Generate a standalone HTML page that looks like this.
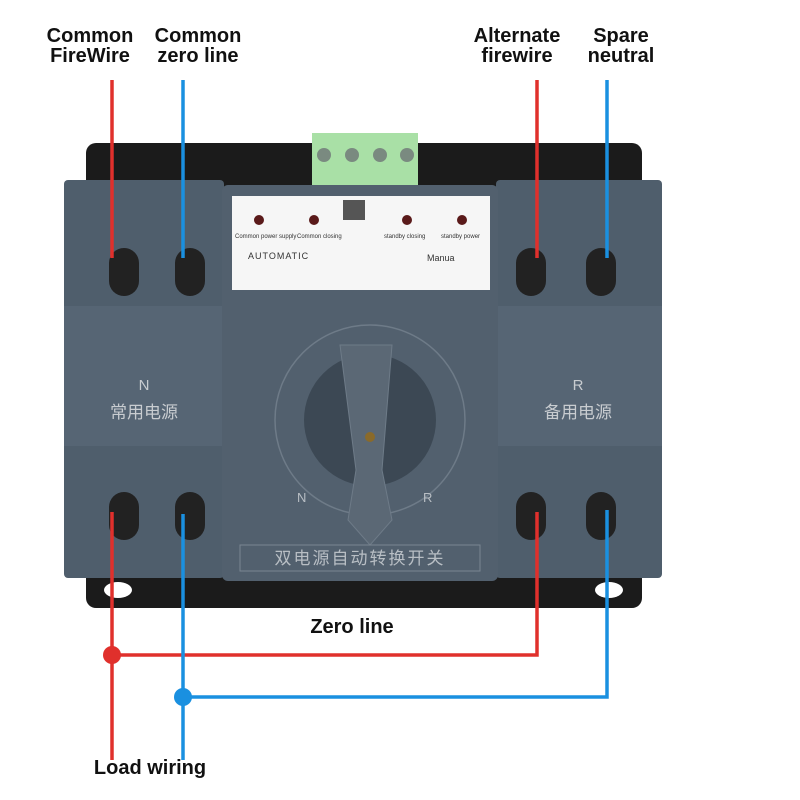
<!DOCTYPE html>
<html><head><meta charset="utf-8"><style>
html,body{margin:0;padding:0;background:#fff;}
svg{display:block;}
</style></head><body>
<svg width="800" height="800" viewBox="0 0 800 800" xmlns="http://www.w3.org/2000/svg" font-family="Liberation Sans, Noto Sans CJK SC, sans-serif">
<rect width="800" height="800" fill="#fff"/>
<!-- brackets -->
<rect x="86" y="143" width="556" height="58" rx="10" fill="#1b1b1b"/>
<rect x="86" y="560" width="556" height="48" rx="10" fill="#1b1b1b"/>
<ellipse cx="118" cy="590" rx="14" ry="8" fill="#fff"/>
<ellipse cx="609" cy="590" rx="14" ry="8" fill="#fff"/>
<!-- green connector -->
<rect x="312" y="133" width="106" height="54" fill="#a9e0a6"/>
<g fill="#7a8a80"><circle cx="324" cy="155" r="7"/><circle cx="352" cy="155" r="7"/><circle cx="380" cy="155" r="7"/><circle cx="407" cy="155" r="7"/></g>
<!-- side modules -->
<rect x="64" y="180" width="160" height="398" rx="4" fill="#4f5e6c"/>
<rect x="496" y="180" width="166" height="398" rx="4" fill="#4f5e6c"/>
<rect x="64" y="306" width="160" height="140" fill="#566574"/>
<rect x="496" y="306" width="166" height="140" fill="#566574"/>
<g fill="#c8ccd0" font-size="15" text-anchor="middle">
<text x="144" y="390">N</text><text x="144" y="418" font-size="17">常用电源</text>
<text x="578" y="390">R</text><text x="578" y="418" font-size="17">备用电源</text>
</g>
<!-- terminals -->
<g fill="#222">
<rect x="109" y="248" width="30" height="48" rx="15"/><rect x="175" y="248" width="30" height="48" rx="15"/>
<rect x="516" y="248" width="30" height="48" rx="15"/><rect x="586" y="248" width="30" height="48" rx="15"/>
<rect x="109" y="492" width="30" height="48" rx="15"/><rect x="175" y="492" width="30" height="48" rx="15"/>
<rect x="516" y="492" width="30" height="48" rx="15"/><rect x="586" y="492" width="30" height="48" rx="15"/>
</g>
<!-- center -->
<rect x="222" y="185" width="276" height="396" rx="6" fill="#52606e"/>
<rect x="232" y="196" width="258" height="94" fill="#f6f6f6"/>
<rect x="343" y="200" width="22" height="20" fill="#555"/>
<g fill="#5a1a1a"><circle cx="259" cy="220" r="5"/><circle cx="314" cy="220" r="5"/><circle cx="407" cy="220" r="5"/><circle cx="462" cy="220" r="5"/></g>
<g font-size="6" fill="#333"><text x="235" y="238">Common power supply</text><text x="297" y="238">Common closing</text><text x="384" y="238">standby closing</text><text x="441" y="238">standby power</text></g>
<text x="248" y="259" font-size="9" fill="#333" letter-spacing="1">AUTOMATIC</text>
<text x="427" y="261" font-size="9" fill="#333">Manua</text>
<circle cx="370" cy="420" r="95" fill="none" stroke="#6e7b88" stroke-width="1.5"/>
<circle cx="370" cy="420" r="66" fill="#3c4854"/>
<path d="M340 345 L392 345 L382 470 L392 520 L370 545 L348 520 L356 470 Z" fill="#5b6875" stroke="#6e7b88"/>
<circle cx="370" cy="437" r="5" fill="#8a6a2a"/>
<text x="297" y="502" font-size="13" fill="#b8bec4">N</text><text x="423" y="502" font-size="13" fill="#b8bec4">R</text>
<rect x="240" y="545" width="240" height="26" fill="none" stroke="#7a8692"/>
<text x="360" y="564" font-size="17" fill="#b8bec4" text-anchor="middle" letter-spacing="2">双电源自动转换开关</text>
<!-- wires -->
<g fill="none" stroke-width="3.5">
<path d="M112 80 V258 M112 512 V760" stroke="#e0302c"/>
<path d="M537 80 V258 M537 512 V655 H112" stroke="#e0302c"/>
<path d="M183 80 V258 M183 514 V760" stroke="#1a90e0"/>
<path d="M607 80 V258 M607 510 V697 H183" stroke="#1a90e0"/>
</g>
<circle cx="112" cy="655" r="9" fill="#e0302c"/>
<circle cx="183" cy="697" r="9" fill="#1a90e0"/>
<!-- labels -->
<g font-weight="bold" font-size="20" fill="#111" text-anchor="middle">
<text x="90" y="42">Common</text><text x="90" y="62">FireWire</text>
<text x="198" y="42">Common</text><text x="198" y="62">zero line</text>
<text x="517" y="42">Alternate</text><text x="517" y="62">firewire</text>
<text x="621" y="42">Spare</text><text x="621" y="62">neutral</text>
<text x="352" y="633">Zero line</text>
<text x="150" y="774">Load wiring</text>
</g>
</svg>
</body></html>
